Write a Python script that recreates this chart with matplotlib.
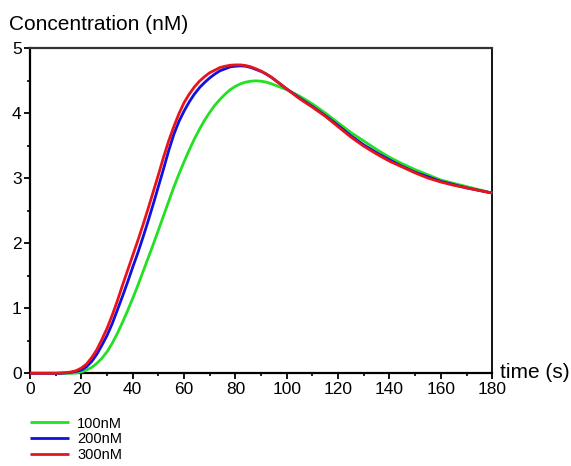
import matplotlib
matplotlib.use("Agg")
import matplotlib.pyplot as plt
from matplotlib.ticker import MultipleLocator

plt.rcParams['font.family'] = ['Liberation Sans', 'DejaVu Sans']

# values
time_100 = [0, 10, 16, 18, 20, 22, 24, 26, 28, 30, 32, 34, 36, 38, 40, 42, 44, 46, 48,
            50, 52, 54, 56, 58, 60, 62, 64, 66, 68, 70, 72, 74, 76, 78, 80, 82, 84, 86,
            88, 90, 92, 94, 96, 98, 100,
            105, 110, 115, 120, 125, 130, 135, 140, 145, 150, 155, 160, 165, 170, 175, 180]
conc_100 = [0, 0, 0, 0.005, 0.02, 0.05, 0.09, 0.15, 0.23, 0.33, 0.46, 0.61, 0.78, 0.96,
            1.15, 1.35, 1.56, 1.77, 1.98, 2.20, 2.42, 2.64, 2.86, 3.06, 3.25, 3.43, 3.60,
            3.75, 3.89, 4.01, 4.12, 4.21, 4.29, 4.36, 4.41, 4.45, 4.475, 4.49,
            4.495, 4.49, 4.475, 4.45, 4.42, 4.39, 4.36,
            4.26, 4.14, 4.00, 3.85, 3.70, 3.57, 3.44, 3.32, 3.22, 3.13, 3.05, 2.97,
            2.92, 2.87, 2.82, 2.77]

time_200 = [0, 12, 14, 16, 18, 20, 22, 24, 26, 28, 30, 32, 34, 36, 38, 40, 42, 44, 46, 48,
            50, 52, 54, 56, 58, 60, 62, 64, 66, 68, 70, 72, 74, 76, 78, 80, 82, 84, 86,
            88, 90, 92, 94, 96, 98, 100,
            105, 110, 115, 120, 125, 130, 135, 140, 145, 150, 155, 160, 165, 170, 175, 180]
conc_200 = [0, 0, 0.005, 0.015, 0.03, 0.05, 0.10, 0.18, 0.29, 0.43, 0.58, 0.76, 0.97,
            1.18, 1.40, 1.63, 1.85, 2.09, 2.34, 2.60, 2.87, 3.14, 3.42, 3.67, 3.87, 4.03,
            4.17, 4.29, 4.39, 4.47, 4.54, 4.60, 4.65, 4.68, 4.71, 4.72, 4.725, 4.72, 4.70,
            4.67, 4.64, 4.60, 4.55, 4.49, 4.43, 4.37,
            4.23, 4.10, 3.96, 3.81, 3.65, 3.51, 3.39, 3.28, 3.18, 3.09, 3.02, 2.95,
            2.90, 2.85, 2.81, 2.77]

time_300 = [0, 10, 12, 14, 16, 18, 20, 22, 24, 26, 28, 30, 32, 34, 36, 38, 40, 42, 44, 46, 48,
            50, 52, 54, 56, 58, 60, 62, 64, 66, 68, 70, 72, 74, 76, 78, 80, 82, 84, 86,
            88, 90, 92, 94, 96, 98, 100,
            105, 110, 115, 120, 125, 130, 135, 140, 145, 150, 155, 160, 165, 170, 175, 180]
conc_300 = [0, 0, 0.005, 0.01, 0.02, 0.04, 0.08, 0.14, 0.24, 0.36, 0.52, 0.69, 0.89, 1.11,
            1.35, 1.58, 1.81, 2.04, 2.28, 2.53, 2.79, 3.05, 3.32, 3.57, 3.79, 3.99, 4.16,
            4.29, 4.40, 4.49, 4.56, 4.62, 4.66, 4.70, 4.72, 4.735, 4.74, 4.74, 4.73, 4.71,
            4.68, 4.645, 4.60, 4.55, 4.49, 4.43, 4.37,
            4.22, 4.09, 3.95, 3.79, 3.63, 3.49, 3.37, 3.26, 3.17, 3.08, 3.00, 2.94,
            2.89, 2.85, 2.81, 2.77]

labels = ["100nM", "200nM", "300nM"]
colors = ["#22e022", "#1010e0", "#e8141c"]

fig = plt.figure(figsize=(5.71, 4.66), dpi=100)
ax = fig.add_axes([0.0525, 0.199, 0.8095, 0.698])

series = [(time_100, conc_100), (time_200, conc_200), (time_300, conc_300)]
lines = []
for (t, c), lab, col in zip(series, labels, colors):
    ln, = ax.plot(t, c, color=col, lw=2.0, label=lab, clip_on=False, zorder=3,
                  solid_capstyle="butt", solid_joinstyle="round")
    lines.append(ln)

ax.set_xlim(0, 180)
ax.set_ylim(0, 5)
ax.xaxis.set_major_locator(MultipleLocator(20))
ax.xaxis.set_minor_locator(MultipleLocator(10))
ax.yaxis.set_major_locator(MultipleLocator(1))
ax.yaxis.set_minor_locator(MultipleLocator(0.5))
ax.tick_params(which="major", direction="out", length=4, width=1.3, labelsize=12.5,
               top=False, right=False, pad=2)
ax.tick_params(which="minor", direction="out", length=2.5, width=1.2,
               top=False, right=False)

for side in ["left", "bottom"]:
    ax.spines[side].set_linewidth(1.6)
    ax.spines[side].set_color("black")
ax.spines["top"].set_linewidth(1.6)
ax.spines["top"].set_color("#333333")
ax.spines["right"].set_linewidth(1.3)

fig.text(0.015, 0.936, "Concentration (nM)", fontsize=15, va="baseline", ha="left")
fig.text(0.876, 0.201, "time (s)", fontsize=15, va="center", ha="left")

fig.legend(handles=lines, labels=labels, loc="upper left", bbox_to_anchor=(0.0525, 0.106),
           frameon=False, fontsize=10.5, handlelength=2.7, handletextpad=0.55,
           labelspacing=0.12, borderpad=0, borderaxespad=0)

fig.savefig("out.png", dpi=100)
